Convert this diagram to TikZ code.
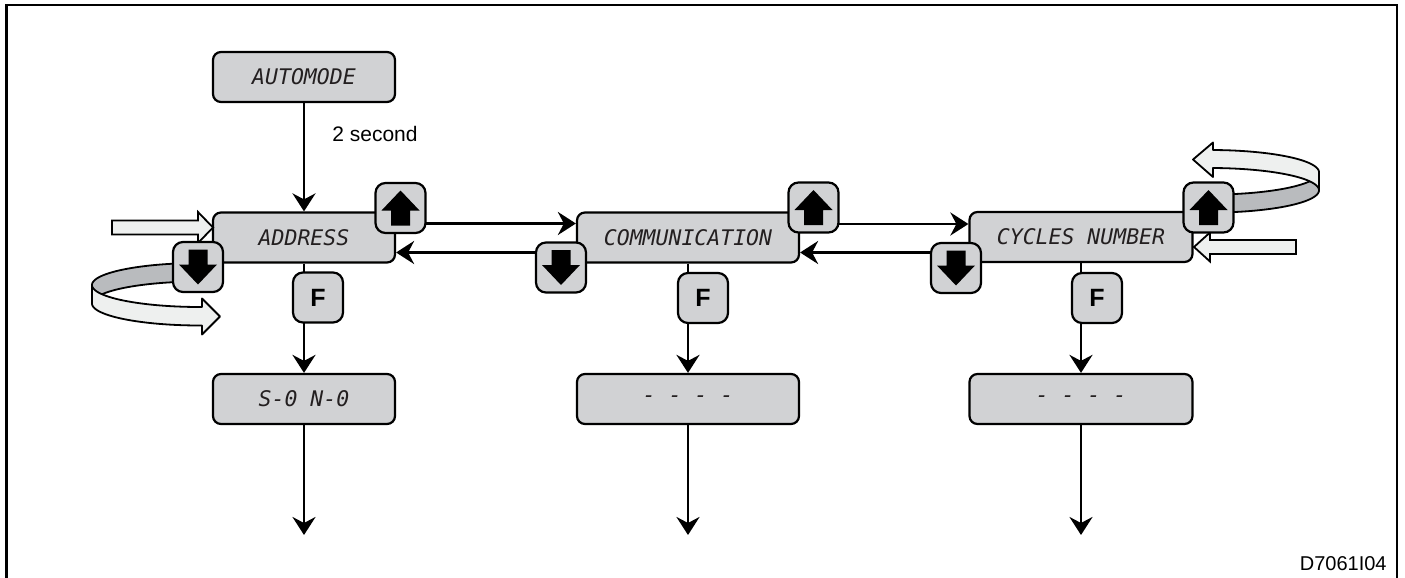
\documentclass[tikz,border=0pt]{standalone}
\usepackage{fontspec}
\setmainfont{Liberation Sans}
\newfontfamily\lcdfont{DejaVu Sans Mono}
\usetikzlibrary{arrows.meta}
\definecolor{boxgray}{RGB}{209,210,212}
\definecolor{bandgray}{RGB}{185,187,190}
\definecolor{bandwhite}{RGB}{238,240,239}
\definecolor{lcdtext}{RGB}{35,31,32}
\newcommand\btnup[1]{\fill (#1) ++(0,-17.5) -- ++(19,20) -- ++(-9.5,0) -- ++(0,15) -- ++(-19,0) -- ++(0,-15) -- ++(-9.5,0) -- cycle;}
\newcommand\btndown[1]{\fill (#1) ++(0,17.5) -- ++(19,-20) -- ++(-9.5,0) -- ++(0,-15) -- ++(-19,0) -- ++(0,15) -- ++(-9.5,0) -- cycle;}
\begin{document}
\begin{tikzpicture}[x=0.5pt,y=-0.5pt,
  lcdbox/.style={draw=black, line width=1.1pt, fill=boxgray, rounded corners=4pt,
    minimum width=91pt, minimum height=25pt, inner sep=0pt,
    font=\lcdfont\itshape\fontsize{10.75pt}{12pt}\selectfont, text=lcdtext},
  btn/.style={draw=black, line width=1.1pt, fill=boxgray, rounded corners=5pt,
    minimum size=25pt, inner sep=0pt},
  fbtn/.style={btn, font=\bfseries\fontsize{12.5pt}{14pt}\selectfont},
  conn/.style={line width=1.4pt, -{Stealth[length=9pt,width=11.5pt,inset=3pt]}},
  ribbon/.style={draw=black, line width=0.9pt, line join=round},
  hollow/.style={draw=black, line width=0.9pt, fill=bandwhite, line join=miter}
]
\useasboundingbox (0,0) rectangle (1405,578);
\clip (0,0) rectangle (1405,578);
% frame
\draw[line width=1.3pt] (6.7,600) -- (6.7,5) -- (1397,5) -- (1397,600);

% display boxes
\node[lcdbox] (auto) at (304,77) {AUTOMODE};
\node[lcdbox] (addr) at (304,237.5) {ADDRESS};
\node[lcdbox, minimum width=111pt] (comm) at (688,237.5) {COMMUNICATION};
\node[lcdbox, minimum width=111.5pt] (cyc) at (1081,237) {CYCLES NUMBER};
\node[lcdbox] (sn) at (304,399) {S-0 N-0};
\node[lcdbox, minimum width=111pt] (dA) at (688,399) {- - - -};
\node[lcdbox, minimum width=111.5pt] (dB) at (1081,399) {- - - -};

% free ends
\coordinate (e1) at (304,535);
\coordinate (e2) at (688,535);
\coordinate (e3) at (1081,535);
\coordinate (u1) at (400,223.5);
\coordinate (l1) at (561,252.5);
\coordinate (u2) at (813,224);
\coordinate (l2) at (956,252.5);

% vertical connectors
\draw[conn] (auto.south) -- (addr.north);
\draw[conn] (addr.south) -- (sn.north);
\draw[conn] (comm.south) -- (dA.north);
\draw[conn] (cyc.south) -- (dB.north);
\draw[conn] (sn.south) -- (e1);
\draw[conn] (dA.south) -- (e2);
\draw[conn] (dB.south) -- (e3);

% horizontal connectors
\draw[conn] (u1) -- (u1 -| comm.west);
\draw[conn] (l1) -- (l1 -| addr.east);
\draw[conn] (u2) -- (u2 -| cyc.west);
\draw[conn] (l2) -- (l2 -| comm.east);

% left loop ribbon
\filldraw[ribbon, fill=bandgray] plot[domain=275:180,samples=40] ({200+108*cos(\x)},{285+22*sin(\x)})
  -- plot[domain=180:275,samples=40] ({200+108*cos(\x)},{303.5+22*sin(\x)}) -- cycle;
\filldraw[ribbon, fill=bandwhite] plot[domain=180:90,samples=40] ({200+108*cos(\x)},{285+22*sin(\x)})
  -- (202,307) -- (202,298.5) -- (220,316.5) -- (202,334.5) -- (202,325.5)
  -- plot[domain=90:180,samples=40] ({200+108*cos(\x)},{303.5+22*sin(\x)}) -- cycle;

% right loop ribbon
\filldraw[ribbon, fill=bandgray] plot[domain=95:0,samples=40] ({1210+109*cos(\x)},{172.3+22.3*sin(\x)})
  -- plot[domain=0:95,samples=40] ({1210+109*cos(\x)},{190.3+22.3*sin(\x)}) -- cycle;
\filldraw[ribbon, fill=bandwhite] plot[domain=360:272,samples=40] ({1210+109*cos(\x)},{172.3+22.3*sin(\x)})
  -- (1213,150) -- (1213,142.5) -- (1193,159.5) -- (1213,177) -- (1213,168)
  -- plot[domain=272:360,samples=40] ({1210+109*cos(\x)},{190.3+22.3*sin(\x)}) -- cycle;

% hollow input arrows
\draw[hollow] (112,220.5) -- (198,220.5) -- (198,212) -- (213,227.5) -- (198,243) -- (198,234.5) -- (112,234.5) -- cycle;
\draw[hollow] (1296,240) -- (1210,240) -- (1210,232.5) -- (1194,247) -- (1210,261.5) -- (1210,254) -- (1296,254) -- cycle;

% buttons
\node[btn] (addrup) at (400.5,208) {};
\btnup{addrup.center}
\node[btn] (addrdn) at (198,267) {};
\btndown{addrdn.center}
\node[btn] (commup) at (813.5,207.5) {};
\btnup{commup.center}
\node[btn] (commdn) at (561,267.5) {};
\btndown{commdn.center}
\node[btn] (cycup) at (1208.5,207.5) {};
\btnup{cycup.center}
\node[btn] (cycdn) at (956,268) {};
\btndown{cycdn.center}

\node[fbtn] (fA) at (318,297.5) {F};
\node[fbtn] (fB) at (703,298) {F};
\node[fbtn] (fC) at (1097,298) {F};

% labels
\node[anchor=base west, inner sep=0pt, font=\fontsize{10.5pt}{12pt}\selectfont] (lbl) at (332,141.7) {2 second};
\node[anchor=base east, inner sep=0pt, font=\fontsize{10pt}{12pt}\selectfont] (code) at (1387,570) {D7061I04};
\end{tikzpicture}
\end{document}
